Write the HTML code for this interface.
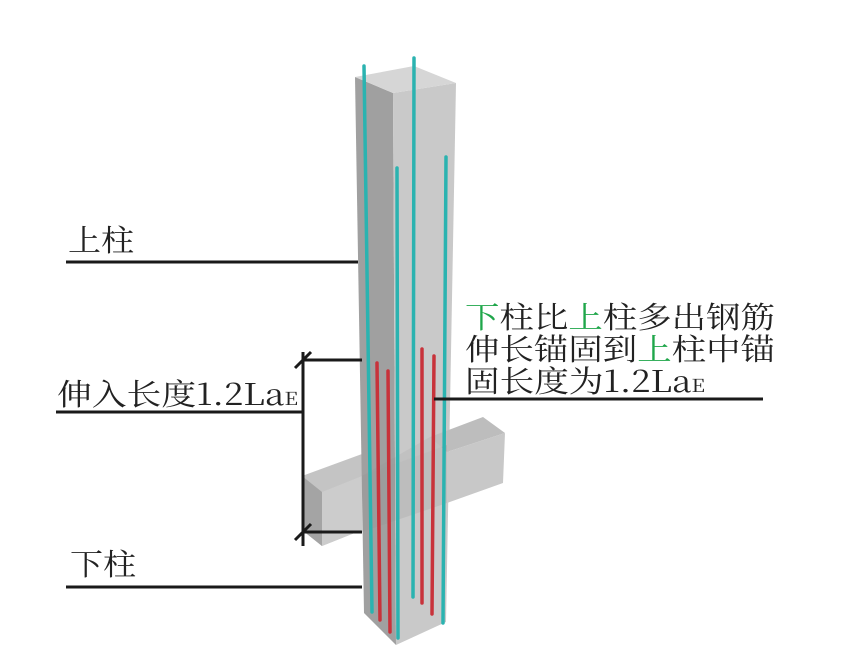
<!DOCTYPE html>
<html><head><meta charset="utf-8"><style>
html,body{margin:0;padding:0;background:#fff;width:852px;height:670px;overflow:hidden}
text{font-family:"Noto Serif CJK SC","Liberation Serif",serif;font-size:30px;fill:#222}
</style></head><body>
<svg width="852" height="670" viewBox="0 0 852 670" xmlns="http://www.w3.org/2000/svg">
<polygon points="302,476 362,454 362,530 322,546 302,530" fill="#c4c4c4"/>
<polygon points="302,476 322,492 322,546 302,530" fill="#a4a4a4"/>
<polygon points="322,492 362,476 362,530 322,546" fill="#cccccc"/>
<polygon points="355,77 393,93 396,645 364,613" fill="#a0a0a0"/>
<polygon points="393,93 456,83 446,622 396,645" fill="#c9c9c9"/>
<polygon points="355,77 414,66 456,83 393,93" fill="#d6d6d6"/>
<polygon points="430,437 483,417 505,433 447,452" fill="#bdbdbd"/>
<polygon points="447,452 505,433 503,483 447,503" fill="#c8c8c8"/>
<polygon points="362,476 447,445 447,503 362,532" fill="#888" opacity="0.18"/>
<polygon points="362,476 430,437 447,452 447,445" fill="#888" opacity="0.12"/>
<g stroke="#2bb3b0" stroke-width="3.5" stroke-linecap="round" fill="none">
<line x1="364" y1="66" x2="372" y2="612"/>
<line x1="397" y1="168" x2="398" y2="638"/>
<line x1="414" y1="58" x2="413" y2="597"/>
<line x1="446" y1="157" x2="443" y2="623"/>
</g>
<g stroke="#c8323a" stroke-width="3.5" stroke-linecap="round" fill="none">
<line x1="377" y1="363" x2="380" y2="620"/>
<line x1="388" y1="371" x2="390" y2="632"/>
<line x1="422" y1="349" x2="422" y2="603"/>
<line x1="434" y1="356" x2="432" y2="614"/>
</g>
<g stroke="#1a1a1a" stroke-width="3" fill="none">
<line x1="66" y1="262" x2="358" y2="262"/>
<line x1="56" y1="412" x2="303" y2="412"/>
<line x1="303" y1="352" x2="303" y2="546"/>
<line x1="303" y1="360" x2="362" y2="360"/>
<line x1="303" y1="532" x2="362" y2="532"/>
<line x1="295" y1="368" x2="311" y2="352"/>
<line x1="295" y1="540" x2="311" y2="524"/>
<line x1="66" y1="587" x2="362" y2="587"/>
<line x1="434" y1="399" x2="763" y2="399"/>
</g>
<text x="68" y="251" textLength="66" lengthAdjust="spacingAndGlyphs">上柱</text>
<text x="57" y="405" textLength="241" lengthAdjust="spacingAndGlyphs">伸入长度1.2La<tspan font-size="18">E</tspan></text>
<text x="70" y="575" textLength="66" lengthAdjust="spacingAndGlyphs">下柱</text>
<text x="465" y="328" textLength="310" lengthAdjust="spacingAndGlyphs"><tspan fill="#1fa64a">下</tspan>柱比<tspan fill="#1fa64a">上</tspan>柱多出钢筋</text>
<text x="465" y="360" textLength="310" lengthAdjust="spacingAndGlyphs">伸长锚固到<tspan fill="#1fa64a">上</tspan>柱中锚</text>
<text x="465" y="392" textLength="240" lengthAdjust="spacingAndGlyphs">固长度为1.2La<tspan font-size="18">E</tspan></text>
</svg>
</body></html>
